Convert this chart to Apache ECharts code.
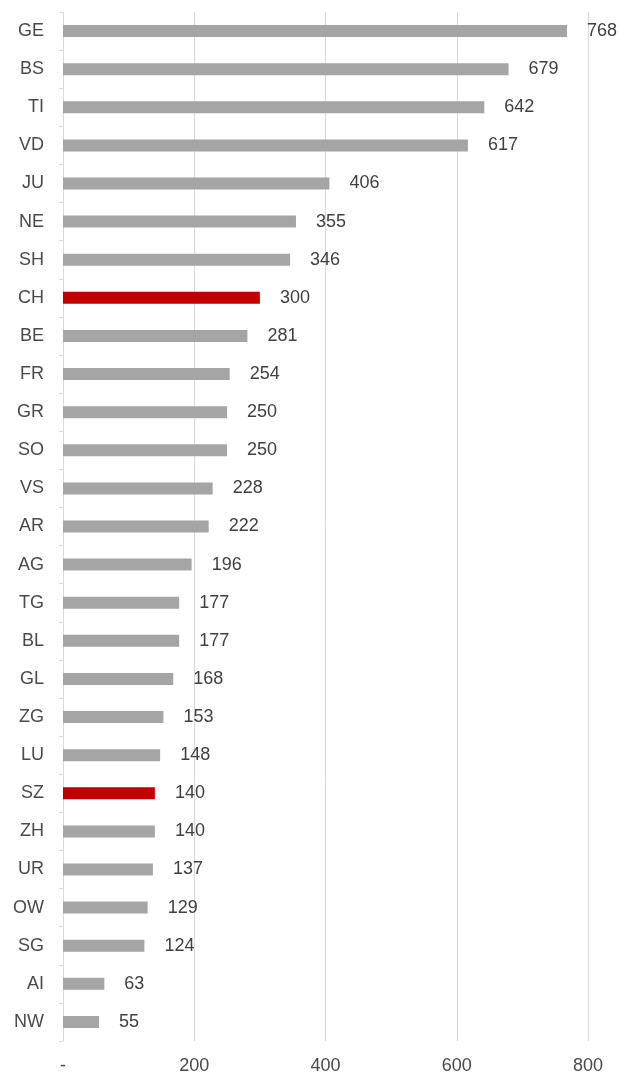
<!DOCTYPE html>
<html>
<head>
<meta charset="utf-8">
<script src="https://cdn.jsdelivr.net/npm/echarts@6/dist/echarts.min.js"></script>
<style>
  html, body { margin: 0; padding: 0; background: #fff; }
  #chart { width: 619px; height: 1075px; }
</style>
</head>
<body>
<div id="chart"></div>
<script>
var cantons = ['GE', 'BS', 'TI', 'VD', 'JU', 'NE', 'SH', 'CH', 'BE', 'FR', 'GR', 'SO', 'VS', 'AR',
    'AG', 'TG', 'BL', 'GL', 'ZG', 'LU', 'SZ', 'ZH', 'UR', 'OW', 'SG', 'AI', 'NW'];
var values = [768, 679, 642, 617, 406, 355, 346, 300, 281, 254, 250, 250, 228, 222,
    196, 177, 177, 168, 153, 148, 140, 140, 137, 129, 124, 63, 55];
var highlighted = ['CH', 'SZ'];
var xTicks = [0, 200, 400, 600, 800];

var chart = echarts.init(document.getElementById('chart'));

var barData = [];
for (var i = 0; i < cantons.length; i++) {
    var hl = highlighted.indexOf(cantons[i]) >= 0;
    barData.push({
        value: values[i],
        itemStyle: { color: hl ? '#c00000' : '#a5a5a5' }
    });
}

var option = {
    animation: false,
    textStyle: { fontFamily: 'Liberation Sans, Arial, sans-serif' },
    grid: { left: 63, right: 31, top: 12, bottom: 32, containLabel: false },
    xAxis: {
        type: 'value',
        min: xTicks[0],
        max: xTicks[xTicks.length - 1],
        interval: 200,
        axisLine: { show: false },
        axisTick: { show: false },
        splitLine: { lineStyle: { color: '#d9d9d9', width: 1 } },
        axisLabel: {
            color: '#4a4a4a',
            fontSize: 18,
            margin: 16,
            formatter: function (v) { return v === 0 ? '-' : String(v); }
        }
    },
    yAxis: {
        type: 'category',
        data: cantons,
        inverse: true,
        axisLine: { show: true, lineStyle: { color: '#d9d9d9' } },
        axisTick: { show: true, length: 4, lineStyle: { color: '#d9d9d9' } },
        axisLabel: { color: '#4a4a4a', fontSize: 18, margin: 19 },
        splitLine: { show: false }
    },
    series: [{
        type: 'bar',
        data: barData,
        barWidth: 12,
        label: {
            show: true,
            position: 'right',
            distance: 20,
            color: '#404040',
            fontSize: 18
        }
    }]
};

chart.setOption(option);
</script>
</body>
</html>
